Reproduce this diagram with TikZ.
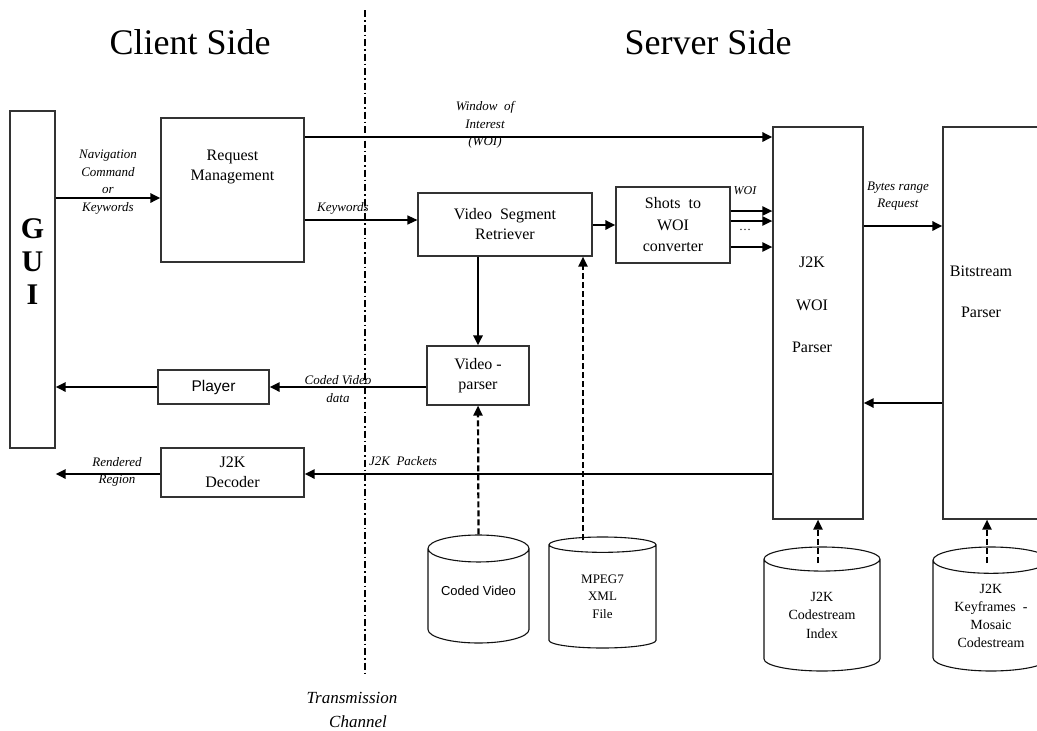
\documentclass[tikz,border=0pt]{standalone}
\usepackage{fontspec}
\setmainfont{Liberation Serif}
\setsansfont{Liberation Sans}
\usetikzlibrary{arrows.meta,shapes.geometric,calc}
\definecolor{ink}{HTML}{111111}
\definecolor{frame}{HTML}{333333}
\newcommand{\fs}[2]{\fontsize{#1}{#2}\selectfont}

\begin{document}
\begin{tikzpicture}[x=1pt,y=-1pt,>={Triangle[length=10pt,width=9pt]},
 box/.style={draw=frame,line width=1.1pt,inner sep=0pt},
 txt/.style={align=center,font=\fs{16}{20}},
 lbl/.style={align=center,inner sep=0pt,font=\fs{13}{17.5}\itshape},
 arr/.style={->,line width=2.8pt},
 thinarr/.style={->,line width=1.3pt},
 dasharr/.style={->,line width=2.2pt,dash pattern=on 6pt off 3pt},
 db/.style={draw=ink,line width=1.1pt,cylinder,shape border rotate=90,aspect=0.36,align=center,inner sep=0pt,anchor=shape center},
 chan/.style={line width=1.6pt,dash pattern=on 7pt off 3pt on 1.5pt off 3pt}]
 \clip (0,0) rectangle (1037,731);
 % sides and channel
 \node[font=\fs{36}{40}] (client) at (190,42) {Client Side};
 \node[font=\fs{36}{40}] (server) at (708,42) {Server Side};
 \coordinate (chtop) at (365,10);
 \coordinate (chbot) at (365,675);
 \draw[chan] (chtop) -- (chbot);
 \node[lbl,font=\fs{17}{24}\itshape] (trans) at (352,710) {Transmission\\\hspace{12pt}Channel};
 % client blocks
 \node[box,minimum width=45pt,minimum height=337pt] (gui) at (32.5,279.5) {};
 \node[font=\fs{30}{33}\bfseries,align=center] (guitxt) at (32.5,262) {G\\U\\I};
 \node[box,minimum width=143pt,minimum height=144pt] (req) at (232.5,190) {};
 \node[txt] (reqtxt) at (232.5,167) {Request\\Management};
 \node[box,minimum width=111pt,minimum height=34pt,font=\sffamily\fs{15.5}{18}] (player) at (213.5,387) {Player};
 \node[box,txt,minimum width=143pt,minimum height=49pt] (dec) at (232.5,472.5) {J2K\\Decoder};
 % server blocks
 \node[box,txt,minimum width=174pt,minimum height=63pt] (vsr) at (505,224.5) {Video\ \ Segment\\Retriever};
 \node[box,txt,font=\fs{16}{21.5},minimum width=114pt,minimum height=76pt] (shots) at (673,225) {Shots\ \ to\\WOI\\converter};
 \node[box,txt,minimum width=102pt,minimum height=59pt] (vparse) at (478,375.5) {Video -\\parser};
 \node[box,minimum width=90pt,minimum height=392pt] (woip) at (818,323) {};
 \node[txt,font=\fs{16}{42.5}] (woiptxt) at (812,305) {J2K\\WOI\\Parser};
 \node[box,minimum width=130pt,minimum height=392pt] (bsp) at (1008,323) {};
 \node[txt,font=\fs{16}{41}] (bsptxt) at (981,292) {Bitstream\\Parser};
 % storage
 \node[db,minimum width=101pt,minimum height=108pt,font=\sffamily\fs{13}{16}] (coded) at (478.5,589) {\raisebox{11pt}{Coded Video}};
 \node[db,minimum width=107pt,minimum height=111pt,font=\fs{13}{17.5}] (mpeg) at (602.5,592.5) {MPEG7\\XML\\File};
 \node[db,minimum width=116pt,minimum height=124pt,font=\fs{14}{18.5}] (index) at (822,609) {J2K\\Codestream\\Index};
 \node[db,minimum width=116pt,minimum height=124pt,font=\fs{14}{18}] (kf) at (991,609) {J2K\\Keyframes\ \ -\\Mosaic\\Codestream};
 \coordinate (mpegin) at (583,540);
 \coordinate (idxin) at (818,563);
 \coordinate (kfin) at (987,563);
 % connectors
 \draw[arr] (gui.east |- 0,198) -- (req.west |- 0,198);
 \node[lbl] (navlbl) at (108,182) {Navigation\\Command\\or\\Keywords};
 \draw[arr] (req.east |- 0,137) -- (woip.west |- 0,137);
 \node[lbl] (woilbl) at (485,125) {Window\ \ of\\Interest\\(WOI)};
 \draw[thinarr] (req.east |- 0,220) -- (vsr.west |- 0,220);
 \node[lbl] (kwlbl) at (343,208) {Keywords};
 \draw[arr] (vsr.east |- 0,225) -- (shots.west |- 0,225);
 \foreach \y in {211,221,247}
  \draw[arr,line width=2.2pt] (shots.east |- 0,\y) -- (woip.west |- 0,\y);
 \node[lbl,font=\fs{12}{14}\itshape] (woismall) at (745,191) {WOI};
 \node[lbl,font=\fs{12}{14}] (dots) at (745,230) {\dots};
 \draw[arr] (vparse.north |- vsr.south) -- (vparse.north);
 \draw[arr] (woip.east |- 0,226) -- (bsp.west |- 0,226);
 \node[lbl] (byteslbl) at (898,196) {Bytes range\\Request};
 \draw[arr] (bsp.west |- 0,403) -- (woip.east |- 0,403);
 \draw[arr] (vparse.west |- 0,387) -- (player.east |- 0,387);
 \node[lbl] (cvlbl) at (338,389) {Coded Video\\data};
 \draw[arr] (player.west) -- (gui.east |- player.west);
 \draw[arr] (woip.west |- 0,474) -- (dec.east |- 0,474);
 \node[lbl] (pktlbl) at (403,461) {J2K\ \ Packets};
 \draw[arr] (dec.west |- 0,474) -- (gui.east |- 0,474);
 \node[lbl] (rndlbl) at (117,472) {Rendered\\Region};
 \draw[dasharr] (coded.north) -- (vparse.south);
 \draw[dasharr] (mpegin) -- (vsr.south -| mpegin);
 \draw[dasharr] (idxin) -- (woip.south);
 \draw[dasharr] (kfin) -- (bsp.south -| kfin);
\end{tikzpicture}
\end{document}
